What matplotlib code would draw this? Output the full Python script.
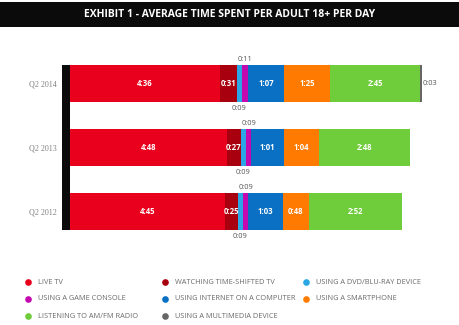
import matplotlib
matplotlib.use("Agg")
import matplotlib.pyplot as plt
from matplotlib.patches import Rectangle

# Quarters (top to bottom)
quarters = ["Q2 2014", "Q2 2013", "Q2 2012"]

# Minutes per day for each activity
live_tv = [276, 288, 285]
time_shifted = [31, 27, 25]
dvd = [9, 9, 9]
game_console = [11, 9, 9]
internet_pc = [67, 61, 63]
smartphone = [85, 64, 48]
radio = [165, 168, 172]
multimedia = [3, 0, 0]

series = [
    ("LIVE TV", live_tv, "#e8001c"),
    ("WATCHING TIME-SHIFTED TV", time_shifted, "#a8000e"),
    ("USING A DVD/BLU-RAY DEVICE", dvd, "#2aa7e4"),
    ("USING A GAME CONSOLE", game_console, "#c40aae"),
    ("USING INTERNET ON A COMPUTER", internet_pc, "#0a70c4"),
    ("USING A SMARTPHONE", smartphone, "#ff7a00"),
    ("LISTENING TO AM/FM RADIO", radio, "#6fcc3a"),
    ("USING A MULTIMEDIA DEVICE", multimedia, "#666666"),
]

FONT = "Open Sans"
W, H = 460, 325
fig = plt.figure(figsize=(W / 100, H / 100), dpi=100)
fig.patch.set_facecolor("white")

def fmt(m):
    return f"{m // 60}:{m % 60:02d}"

# Title band
band = fig.add_axes([0, 1 - 27 / H, 1, 25 / H])
band.set_facecolor("#0b0b0b")
band.set_xticks([]); band.set_yticks([])
for s in band.spines.values():
    s.set_visible(False)
band.text(0.5, 0.5, "EXHIBIT 1 - AVERAGE TIME SPENT PER ADULT 18+ PER DAY",
          color="white", fontsize=7.5, fontweight="bold", family=FONT,
          ha="center", va="center", transform=band.transAxes)

# Main bar axes (pixel-based placement)
px_per_min = 0.5435
ax_left, ax_right = 62, 450
ax_top, ax_bot = 40, 250
ax = fig.add_axes([ax_left / W, 1 - ax_bot / H, (ax_right - ax_left) / W, (ax_bot - ax_top) / H])
x0 = -(70 - ax_left) / px_per_min
ax.set_xlim(x0, x0 + (ax_right - ax_left) / px_per_min)
ax.set_ylim((ax_bot - 83.5) / 64, (ax_top - 83.5) / 64)
for s in ax.spines.values():
    s.set_visible(False)
ax.set_xticks([])

bar_h = 37 / 64
ypos = list(range(len(quarters)))
small = dict(fontsize=5.4, color="#555555", family=FONT)

lefts = [0] * len(quarters)
for name, vals, color in series:
    ax.barh(ypos, vals, left=lefts, height=bar_h, color=color, linewidth=0)
    for i, v in enumerate(vals):
        if v == 0:
            continue
        cx = lefts[i] + v / 2
        if name == "USING A DVD/BLU-RAY DEVICE":
            ax.text(cx - 1, i + bar_h / 2 + 0.04, fmt(v), ha="center", va="top", **small)
        elif name == "USING A GAME CONSOLE":
            ax.text(cx + 1, i - bar_h / 2 - 0.03, fmt(v), ha="center", va="bottom", **small)
        elif name == "USING A MULTIMEDIA DEVICE":
            ax.text(lefts[i] + v + 2, i, fmt(v), ha="left", va="center", **small)
        else:
            ax.text(cx, i, fmt(v), ha="center", va="center",
                    fontsize=5.6, color="white", family=FONT, fontweight="bold")
    lefts = [l + v for l, v in zip(lefts, vals)]

# Black baseline block at the left of the bars
ax.add_patch(Rectangle((x0, -bar_h / 2), -x0, len(quarters) - 1 + bar_h,
                       facecolor="#0b0b0b", linewidth=0))

ax.set_yticks(ypos)
ax.set_yticklabels(quarters, fontsize=5.8, color="#808080", family="Liberation Serif")
ax.tick_params(axis="y", length=0, pad=4)

# Legend
leg = fig.add_axes([0, 0, 1, 1], facecolor="none")
leg.set_xlim(0, W); leg.set_ylim(H, 0)
leg.axis("off")
cols_x = [28, 165, 306]
rows_y = [282, 299, 316]
layout = [
    (0, 0, 0), (1, 1, 0), (2, 2, 0),
    (3, 0, 1), (4, 1, 1), (5, 2, 1),
    (6, 0, 2), (7, 1, 2),
]
for idx, col, row in layout:
    name, _, color = series[idx]
    leg.plot(cols_x[col], rows_y[row], "o", ms=4.8, color=color, mec="none")
    leg.text(cols_x[col] + 10, rows_y[row], name, fontsize=5.3, color="#6a6a6a",
             family=FONT, va="center", ha="left")

fig.savefig("out.png", dpi=100)
